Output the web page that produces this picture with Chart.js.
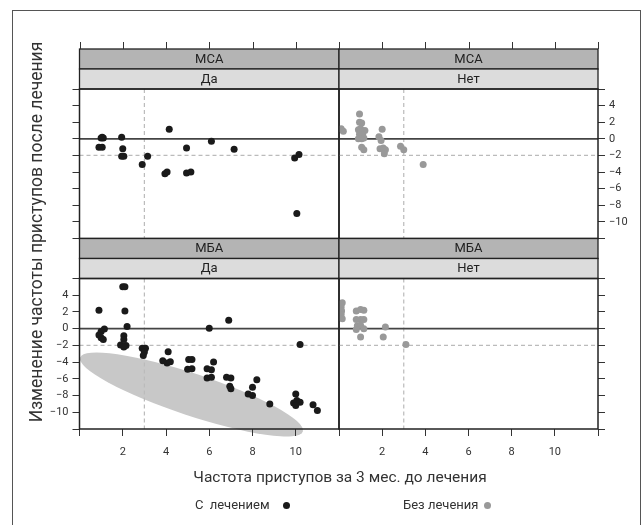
<!DOCTYPE html>
<html><head><meta charset="utf-8">
<script src="https://cdn.jsdelivr.net/npm/chart.js@4.4.1/dist/chart.umd.min.js"></script>
<style>
html,body{margin:0;padding:0;background:#fff;}
#wrap{position:relative;width:642px;height:525px;overflow:hidden;font-family:Roboto,"Noto Sans",sans-serif;color:#333;}
#frame{position:absolute;left:12px;top:10px;width:629px;height:540px;border:1px solid #555;box-sizing:border-box;}
canvas{position:absolute;left:0;top:0;}
.t{position:absolute;white-space:nowrap;}
.dot{position:absolute;width:7px;height:7px;border-radius:50%;}
</style></head><body>
<div id="wrap">
<div id="frame"></div>
<canvas id="c1" width="642" height="525"></canvas>
<canvas id="c2" width="642" height="525"></canvas>
<canvas id="c3" width="642" height="525"></canvas>
<canvas id="c4" width="642" height="525"></canvas>
<div class="t" id="xtitle" style="left:90px;width:500px;text-align:center;top:467px;font-size:15.5px;line-height:20px;color:#333;">Частота приступов за 3 мес. до лечения</div>
<div class="t" id="ytitle" style="left:-214px;width:500px;text-align:center;top:222px;font-size:17.5px;line-height:20px;color:#333;transform:rotate(-90deg);">Изменение частоты приступов после лечения</div>
<div class="t" style="left:195px;top:497px;font-size:13px;line-height:16px;color:#333;word-spacing:3px;">С лечением</div>
<div class="dot" style="left:282.5px;top:501.5px;background:#1a1a1a;"></div>
<div class="t" style="left:403px;top:497px;font-size:13px;line-height:16px;color:#333;">Без лечения</div>
<div class="dot" style="left:483.5px;top:501.5px;background:#999;"></div>
</div>
<script>
// ---- data ----
const xTickLabels = [2, 4, 6, 8, 10];
const yTickLabels = [4, 2, 0, -2, -4, -6, -8, -10];
const xRange = [0, 12];
const yRange = [-12, 6];
const refSolidY = [0];
const refDashedY = [-2];
const refDashedX = [3];
const rowNames = ['МСА', 'МБА'];
const colNames = ['Да', 'Нет'];
const seriesNames = ['С лечением', 'Без лечения'];

// MCA, Да
const mcaYesX = [1.0, 1.1, 1.05, 0.9, 1.05, 1.95, 2.0, 1.95, 2.05, 2.9, 3.15, 4.15, 3.95, 4.05, 4.95, 4.95, 5.15, 6.1, 7.15, 9.95, 10.15, 10.05];
const mcaYesY = [0.1, 0.1, 0.2, -1.0, -1.0, 0.2, -1.2, -2.1, -2.1, -3.1, -2.1, 1.15, -4.2, -4.0, -1.1, -4.1, -4.0, -0.3, -1.25, -2.3, -1.9, -9.0];
// MCA, Нет
const mcaNoX = [0.1, 0.2, 0.95, 0.95, 1.05, 0.9, 1.0, 1.2, 0.95, 1.1, 0.9, 1.05, 1.15, 1.05, 1.15, 2.0, 1.85, 1.95, 1.9, 2.05, 2.15, 2.1, 2.85, 3.0, 3.9];
const mcaNoY = [1.2, 0.9, 3.0, 2.0, 1.9, 1.1, 1.2, 1.0, 0.55, 0.5, 0.0, 0.0, 0.1, -1.0, -1.3, 1.15, 0.25, -0.2, -1.2, -1.1, -1.3, -1.8, -0.9, -1.3, -3.1];
// MBA, Да
const mbaYesX = [2.0, 2.1, 0.9, 2.1, 2.2, 1.15, 1.0, 0.9, 1.0, 1.1, 2.05, 2.05, 1.9, 2.15, 2.05, 2.9, 3.05, 3.0, 2.95, 4.1, 3.85, 4.05, 4.2, 5.05, 5.2, 5.0, 5.2, 6.0, 6.9, 10.2, 6.2, 5.9, 6.1, 5.9, 6.1, 6.8, 7.0, 6.95, 7.0, 8.2, 8.0, 7.8, 8.0, 8.8, 10.0, 9.9, 10.05, 10.2, 10.0, 10.8, 11.0];
const mbaYesY = [5.0, 5.0, 2.2, 2.1, 0.25, -0.05, -0.35, -0.75, -1.1, -1.3, -0.85, -1.3, -1.95, -2.0, -2.2, -2.35, -2.35, -2.8, -3.2, -2.75, -3.85, -4.1, -3.95, -3.7, -3.7, -4.85, -4.8, 0.05, 1.0, -1.9, -4.0, -4.8, -4.9, -5.9, -5.8, -5.8, -5.9, -6.9, -7.2, -6.1, -7.0, -7.8, -8.0, -9.0, -7.8, -8.9, -8.6, -8.8, -9.2, -9.1, -9.8];
// MBA, Нет
const mbaNoX = [0.15, 0.1, 0.12, 0.1, 0.15, 0.8, 1.0, 1.15, 0.8, 1.0, 1.15, 0.85, 1.0, 1.15, 0.8, 1.0, 2.15, 2.05, 3.1];
const mbaNoY = [3.1, 2.6, 2.1, 1.7, 1.2, 2.1, 2.3, 2.2, 1.1, 1.1, 1.1, 0.35, 0.4, 0.0, -0.1, -1.0, 0.2, -1.0, -1.9];
// highlighted region (ellipse) in MBA, Да: major-axis end points in data units
const ellipseEndA = [0.03, -3.45];
const ellipseEndB = [10.33, -12.3];

// ---- layout / style ----
const W = 642, H = 525, YW = 40, XH = 30;
const FONT = 'Roboto, "Noto Sans", sans-serif';
const colors = ['#1a1a1a', '#999999'];
const cols = [{L: 79.5, R: 339}, {L: 339, R: 598}];
const rows = [{T: 89, B: 238.5}, {T: 278.5, B: 429}];

const decor = {
  id: 'decor',
  beforeDraw(chart, args, o) {
    if (!o.ellipse) return;
    const ctx = chart.ctx, xs = chart.scales.x, ys = chart.scales.y;
    const ax = xs.getPixelForValue(ellipseEndA[0]), ay = ys.getPixelForValue(ellipseEndA[1]);
    const bx = xs.getPixelForValue(ellipseEndB[0]), by = ys.getPixelForValue(ellipseEndB[1]);
    ctx.save();
    ctx.fillStyle = '#c8c8c8';
    ctx.beginPath();
    ctx.ellipse((ax + bx) / 2, (ay + by) / 2, Math.hypot(bx - ax, by - ay) / 2, 21, Math.atan2(by - ay, bx - ax), 0, Math.PI * 2);
    ctx.fill();
    ctx.restore();
  },
  beforeDatasetsDraw(chart, args, o) {
    const ctx = chart.ctx, a = chart.chartArea, xs = chart.scales.x, ys = chart.scales.y;
    ctx.save();
    ctx.strokeStyle = '#bbbbbb'; ctx.lineWidth = 1.2; ctx.setLineDash([4, 3]);
    refDashedY.forEach(v => { const y = ys.getPixelForValue(v); ctx.beginPath(); ctx.moveTo(a.left, y); ctx.lineTo(a.right, y); ctx.stroke(); });
    refDashedX.forEach(v => { const x = xs.getPixelForValue(v); ctx.beginPath(); ctx.moveTo(x, a.top); ctx.lineTo(x, a.bottom); ctx.stroke(); });
    ctx.setLineDash([]); ctx.strokeStyle = '#444'; ctx.lineWidth = 1.6;
    refSolidY.forEach(v => { const y = ys.getPixelForValue(v); ctx.beginPath(); ctx.moveTo(a.left, y); ctx.lineTo(a.right, y); ctx.stroke(); });
    ctx.restore();
  },
  afterDraw(chart, args, o) {
    const ctx = chart.ctx, a = chart.chartArea, xs = chart.scales.x;
    ctx.save();
    const sh = 20;
    const strips = [[a.top - 2 * sh, '#b4b4b4', o.strip1], [a.top - sh, '#dcdcdc', o.strip2]];
    strips.forEach(([y, fill, txt]) => {
      ctx.fillStyle = fill; ctx.fillRect(a.left, y, a.right - a.left, sh);
      ctx.strokeStyle = '#222'; ctx.lineWidth = 1.3; ctx.strokeRect(a.left, y, a.right - a.left, sh);
      ctx.fillStyle = '#222'; ctx.font = '13px ' + FONT; ctx.textAlign = 'center'; ctx.textBaseline = 'middle';
      ctx.fillText(txt, (a.left + a.right) / 2, y + sh / 2 + 0.5);
    });
    ctx.strokeStyle = '#222'; ctx.lineWidth = 1.5;
    ctx.strokeRect(a.left, a.top, a.right - a.left, a.bottom - a.top);
    if (o.topTicks) {
      ctx.strokeStyle = '#333'; ctx.lineWidth = 1;
      xs.ticks.forEach(t => { const x = Math.round(xs.getPixelForValue(t.value)) + 0.5; ctx.beginPath(); ctx.moveTo(x, a.top - 2 * sh); ctx.lineTo(x, a.top - 2 * sh - 7); ctx.stroke(); });
    }
    ctx.restore();
  }
};

function makePanel(id, r, c, xsArr, ysArr) {
  const col = cols[c], row = rows[r];
  const yPos = c === 0 ? 'left' : 'right';
  const showYLabels = (r === 1 && c === 0) || (r === 0 && c === 1);
  const bottomRow = r === 1;
  const fmt = v => (v < 0 ? '\u2212' + Math.abs(v) : String(v));
  new Chart(document.getElementById(id), {
    type: 'scatter',
    data: { datasets: [{
      label: seriesNames[c],
      data: xsArr.map((x, i) => ({x, y: ysArr[i]})),
      backgroundColor: colors[c], borderWidth: 0, pointRadius: 3.5, pointHoverRadius: 3.5
    }]},
    options: {
      responsive: false, animation: false, devicePixelRatio: 1,
      layout: { padding: {
        left: yPos === 'left' ? col.L - YW : col.L,
        right: yPos === 'right' ? W - col.R - YW : W - col.R,
        top: row.T,
        bottom: bottomRow ? H - row.B - XH : H - row.B } },
      plugins: { legend: {display: false}, tooltip: {enabled: false},
        decor: { ellipse: r === 1 && c === 0, strip1: rowNames[r], strip2: colNames[c], topTicks: r === 0 } },
      scales: {
        x: { type: 'linear', min: xRange[0], max: xRange[1], display: bottomRow, position: 'bottom',
          ticks: { stepSize: 2, autoSkip: false, maxRotation: 0, padding: 10, color: '#333', font: {size: 11, family: FONT},
            callback: v => xTickLabels.includes(v) ? String(v) : '' },
          grid: { drawOnChartArea: false, drawTicks: true, tickLength: 7, color: '#333', lineWidth: 1 },
          border: { display: false },
          afterFit: s => { if (s.options.display) s.height = XH; } },
        y: { type: 'linear', min: yRange[0], max: yRange[1], position: yPos,
          ticks: { stepSize: 2, autoSkip: false, padding: 4, color: '#333', font: {size: 11, family: FONT},
            callback: v => (showYLabels && yTickLabels.includes(v)) ? fmt(v) : '' },
          grid: { drawOnChartArea: false, drawTicks: true, tickLength: 7, color: '#333', lineWidth: 1 },
          border: { display: false },
          afterFit: s => { s.width = YW; } }
      }
    },
    plugins: [decor]
  });
}
makePanel('c1', 0, 0, mcaYesX, mcaYesY);
makePanel('c2', 0, 1, mcaNoX, mcaNoY);
makePanel('c3', 1, 0, mbaYesX, mbaYesY);
makePanel('c4', 1, 1, mbaNoX, mbaNoY);
</script>
</body></html>
